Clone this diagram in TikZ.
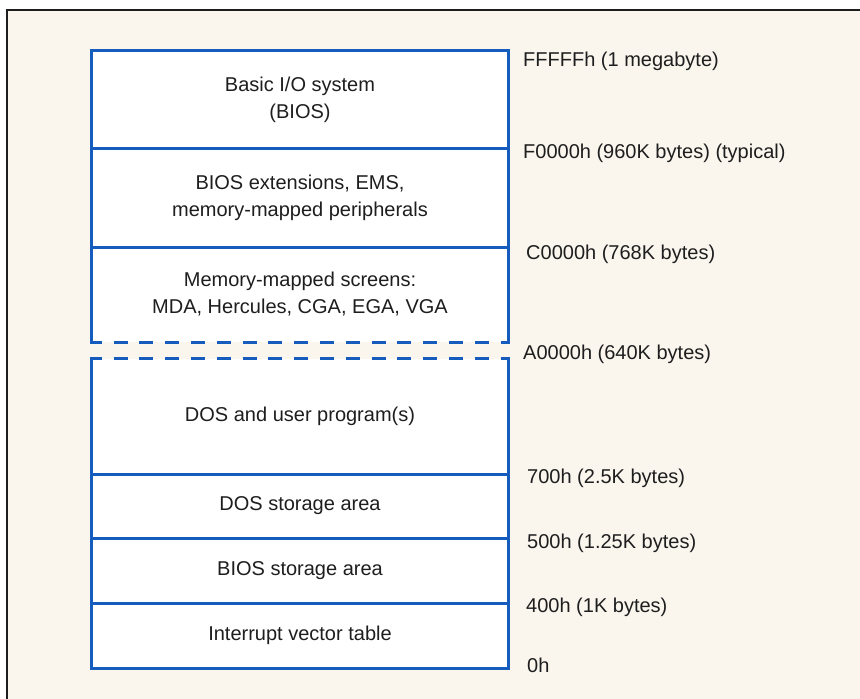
\documentclass[tikz,border=0pt]{standalone}
\usepackage{fontspec}
\setmainfont{Liberation Sans}
\definecolor{mapblue}{RGB}{22,92,188}
\definecolor{paper}{RGB}{250,246,238}
\definecolor{ink}{RGB}{30,30,30}
\tikzset{
  mapline/.style={draw=mapblue, line width=3pt},
  gapline/.style={mapline, dash pattern=on 14pt off 11.8pt, dash phase=4pt},
  region/.style={minimum width=416pt, inner sep=0pt, align=center, text=ink,
    font=\fontsize{20}{27}\selectfont},
  addr/.style={anchor=west, inner sep=0pt, text=ink,
    font=\fontsize{20}{24}\selectfont, text height=14pt, text depth=0pt},
}
\begin{document}
\begin{tikzpicture}[x=1pt,y=-1pt]
  \useasboundingbox (0,0) rectangle (860,699);
  % Frame and paper
  \fill[white] (0,0) rectangle (860,699);
  \fill[paper] (7,10) rectangle (860,699);
  \draw[ink, line width=1.8pt] (7,703) -- (7,10) -- (864,10);
  % White fill of the two blocks
  \fill[white] (92,51) rectangle (508,342);
  \fill[white] (92,359) rectangle (508,668);
  % Upper block (above 640K)
  \node[region, minimum height=97pt] (bios) at (300,99.5) {Basic I/O system\\(BIOS)};
  \node[region, minimum height=99pt] (ext) at (300,197.5) {BIOS extensions, EMS,\\memory-mapped peripherals};
  \node[region, minimum height=95pt] (scr) at (300,294.5) {Memory-mapped screens:\\MDA, Hercules, CGA, EGA, VGA};
  % Lower block (below 640K)
  \node[region, minimum height=115pt] (user) at (300,416.5) {DOS and user program(s)};
  \node[region, minimum height=64pt] (dosdata) at (300,506) {DOS storage area};
  \node[region, minimum height=65pt] (biosdata) at (300,570.5) {BIOS storage area};
  \node[region, minimum height=65pt] (ivt) at (300,635.5) {Interrupt vector table};
  % Outlines
  \draw[mapline, line cap=rect] (scr.south west) -- (bios.north west) -- (bios.north east) -- (scr.south east);
  \draw[mapline] (bios.south west) -- (bios.south east);
  \draw[mapline] (ext.south west) -- (ext.south east);
  \draw[gapline] (scr.south west) -- (scr.south east);
  \draw[gapline] (user.north west) -- (user.north east);
  \draw[mapline, line cap=rect] (user.north west) -- (ivt.south west) -- (ivt.south east) -- (user.north east);
  \draw[mapline] (user.south west) -- (user.south east);
  \draw[mapline] (dosdata.south west) -- (dosdata.south east);
  \draw[mapline] (biosdata.south west) -- (biosdata.south east);
  % Addresses
  \node[addr] (addrtop) at (523,59) {FFFFFh (1 megabyte)};
  \node[addr] (addrF) at (523,151) {F0000h (960K bytes) (typical)};
  \node[addr] (addrC) at (526,252) {C0000h (768K bytes)};
  \node[addr] (addrA) at (523,352) {A0000h (640K bytes)};
  \node[addr] (addr700) at (527,476) {700h (2.5K bytes)};
  \node[addr] (addr500) at (527,541) {500h (1.25K bytes)};
  \node[addr] (addr400) at (526,605) {400h (1K bytes)};
  \node[addr] (addr0) at (527,665) {0h};
\end{tikzpicture}
\end{document}
